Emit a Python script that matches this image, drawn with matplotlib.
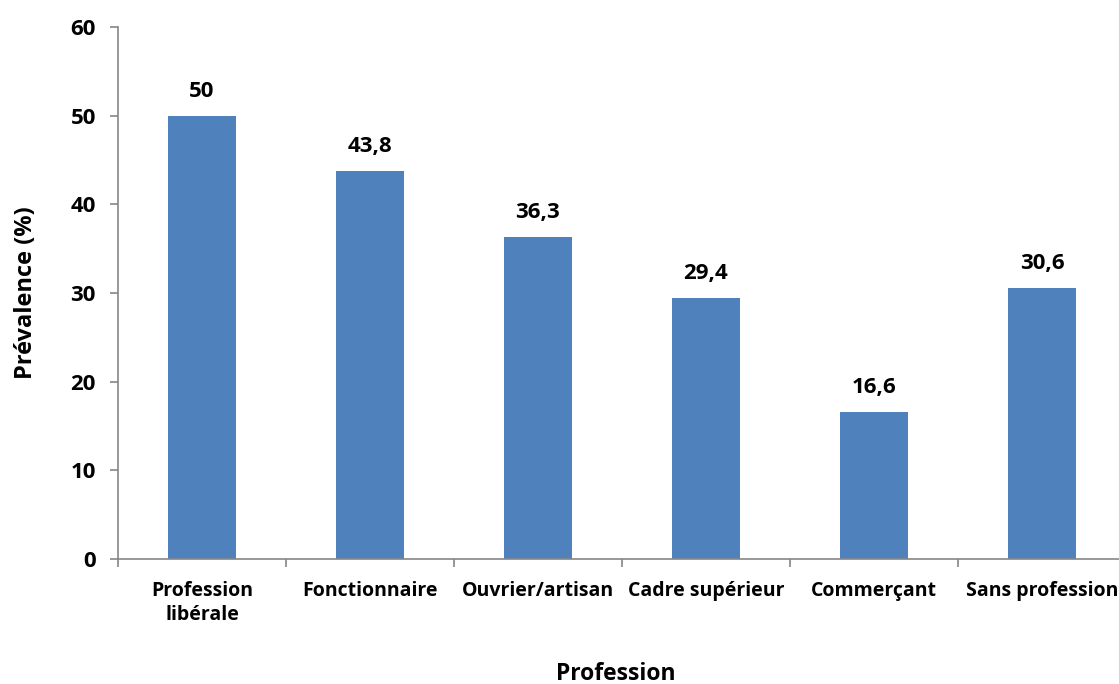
import matplotlib
matplotlib.use('Agg')
import matplotlib.pyplot as plt
import numpy as np

# Data
professions = ['Profession\nlibérale', 'Fonctionnaire', 'Ouvrier/artisan',
               'Cadre supérieur', 'Commerçant', 'Sans profession']
prevalence = [50, 43.8, 36.3, 29.4, 16.6, 30.6]
value_labels = ['50', '43,8', '36,3', '29,4', '16,6', '30,6']
y_ticks = [0, 10, 20, 30, 40, 50, 60]

plt.rcParams['font.family'] = ['Open Sans', 'DejaVu Sans']
plt.rcParams['font.weight'] = 'bold'
FS = 14      # category labels
NFS = 16     # numbers
LFS = 16.5   # axis titles

fig = plt.figure(figsize=(11.19, 6.84), dpi=100)
ax = fig.add_axes([118 / 1119, 1 - 559 / 684, 1008 / 1119, (559 - 27) / 684])

x = np.arange(len(professions))
ax.bar(x, prevalence, width=0.4, color='#4F81BD', zorder=2)

for xi, v, lab in zip(x, prevalence, value_labels):
    ax.annotate(lab, (xi, v), xytext=(0, 10), textcoords='offset points',
                ha='center', va='bottom', fontsize=NFS, fontweight='bold')

ax.set_xlim(-0.5, len(professions) - 0.5)
ax.set_ylim(0, 60)
ax.set_yticks(y_ticks)
ax.set_yticklabels([str(t) for t in y_ticks], fontsize=NFS, fontweight='bold')

# category labels centred, tick marks between categories
ax.set_xticks(x)
ax.set_xticklabels(professions, fontsize=FS, fontweight='bold', linespacing=1.25)
ax.tick_params(axis='x', length=0, pad=16)
ax.set_xticks(np.arange(len(professions) + 1) - 0.5, minor=True)
ax.tick_params(axis='x', which='minor', length=6, color='#868686', width=1.2)
ax.tick_params(axis='y', length=6, color='#868686', width=1.2, pad=10)

for side in ['top', 'right']:
    ax.spines[side].set_visible(False)
for side in ['left', 'bottom']:
    ax.spines[side].set_color('#868686')
    ax.spines[side].set_linewidth(1.2)

ax.set_ylabel('Prévalence (%)', fontsize=17, fontweight='bold')
ax.yaxis.set_label_coords(-(118 - 38) / 1008, 0.5)
ax.set_xlabel('Profession', fontsize=LFS, fontweight='bold')
ax.xaxis.set_label_coords((616 - 118) / 1008, -(662 - 559) / 532)

fig.savefig('out.png', dpi=100)
